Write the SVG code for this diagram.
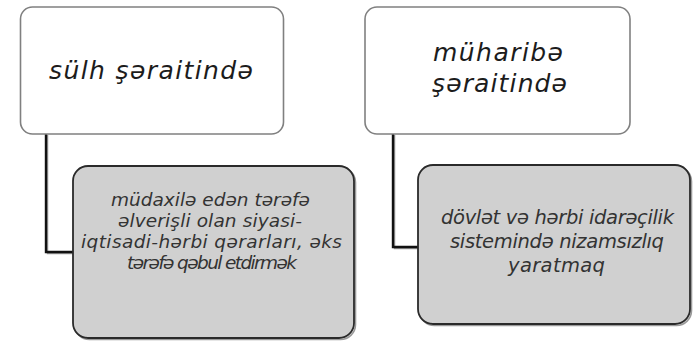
<svg xmlns="http://www.w3.org/2000/svg" width="695" height="341" viewBox="0 0 695 341">
<style>
.top{fill:#ffffff;stroke:#808080;stroke-width:1.6}
.sub{fill:#d0d0d0;stroke:#2a2a2a;stroke-width:1.8}
.shadow{fill:none;stroke:#9a9a9a;stroke-width:1.6}
.conn{fill:none;stroke:#111111;stroke-width:2.4}
.connsh{fill:none;stroke:#9a9a9a;stroke-width:1.5}
.t1{font-family:"DejaVu Sans","Noto Sans",sans-serif;font-style:italic;font-size:25px;fill:#1c1c1c;text-anchor:middle}
.t2{font-family:"DejaVu Sans","Noto Sans",sans-serif;font-style:italic;font-size:18.5px;fill:#333333;text-anchor:middle}
.t3{font-family:"DejaVu Sans","Noto Sans",sans-serif;font-style:italic;font-size:19.5px;fill:#333333;text-anchor:middle}
</style>
<rect width="695" height="341" fill="#ffffff"/>
<g id="connectors">
<path class="connsh" d="M47.5,135 V253.5 H73"/>
<path class="conn" d="M46,134 V252 H73"/>
<path class="connsh" d="M394.5,135 V248.5 H418"/>
<path class="conn" d="M393,134 V247 H418"/>
</g>
<g id="node-sulh">
<rect class="top" x="20.5" y="7" width="263" height="127" rx="12"/>
<text class="t1" x="151" y="79" textLength="204" lengthAdjust="spacing">sülh şəraitində</text>
</g>
<g id="node-muharibe">
<rect class="top" x="365" y="7" width="265" height="127" rx="12"/>
<text class="t1" x="498" y="61" textLength="130" lengthAdjust="spacing">müharibə</text>
<text class="t1" x="499.5" y="92" textLength="135" lengthAdjust="spacing">şəraitində</text>
</g>
<g id="node-mudaxile">
<rect class="shadow" x="74.5" y="167.5" width="281" height="172" rx="15"/>
<rect class="sub" x="73" y="166" width="281" height="172" rx="15"/>
<text class="t2" x="210.5" y="206" textLength="199" lengthAdjust="spacing">müdaxilə edən tərəfə</text>
<text class="t2" x="210" y="227" textLength="184" lengthAdjust="spacing">əlverişli olan siyasi-</text>
<text class="t2" x="211.5" y="248" textLength="261" lengthAdjust="spacing">iqtisadi-hərbi qərarları, əks</text>
<text class="t2" x="212" y="269" textLength="170" lengthAdjust="spacing">tərəfə qəbul etdirmək</text>
</g>
<g id="node-dovlet">
<rect class="shadow" x="419.5" y="166.5" width="272" height="159" rx="15"/>
<rect class="sub" x="418" y="165" width="272" height="159" rx="15"/>
<text class="t3" x="557.5" y="224" textLength="233" lengthAdjust="spacing">dövlət və hərbi idarəçilik</text>
<text class="t3" x="557" y="248" textLength="214" lengthAdjust="spacing">sistemində nizamsızlıq</text>
<text class="t3" x="556.5" y="272" textLength="97" lengthAdjust="spacing">yaratmaq</text>
</g>
</svg>
